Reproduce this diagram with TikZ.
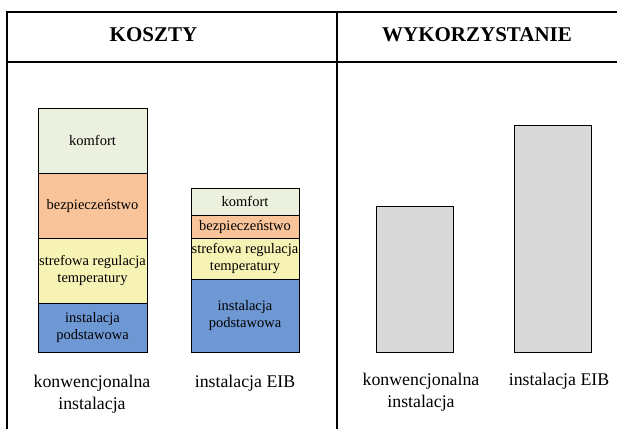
\documentclass[tikz,border=0pt]{standalone}
\usepackage{fontspec}
\setmainfont{Liberation Serif}
\definecolor{comfort}{HTML}{EBF1DE}
\definecolor{safety}{HTML}{F9C49A}
\definecolor{zone}{HTML}{F7F3B5}
\definecolor{base}{HTML}{6D98D4}
\definecolor{usegray}{HTML}{D9D9D9}
\begin{document}
\begin{tikzpicture}[x=1pt,y=-1pt,
  frame/.style={line width=2pt},
  seg/.style={draw=black, line width=0.8pt, inner sep=0pt, align=center,
              font=\fontsize{14.5}{17.5}\selectfont},
  usebar/.style={draw=black, line width=0.8pt, fill=usegray, inner sep=0pt},
  head/.style={font=\fontsize{21}{25}\selectfont\bfseries},
  caption/.style={align=center, inner sep=0pt, font=\fontsize{17.8}{22}\selectfont}]
\useasboundingbox (0,0) rectangle (617,429);

% table frame
\draw[frame] (7,12) -- (617,12);
\draw[frame] (7,61.5) -- (617,61.5);
\draw[frame] (7,11) -- (7,429);
\draw[frame] (337,11) -- (337,429);

% column headings
\node[head, anchor=base] (hcost) at (153.5,41) {KOSZTY};
\node[head, anchor=base] (huse) at (477,41) {WYKORZYSTANIE};

% cost stack: conventional installation
\node[seg, fill=comfort, minimum width=109pt, minimum height=65pt] (c1) at (92.5,140.5) {komfort};
\node[seg, fill=safety,  minimum width=109pt, minimum height=65pt] (c2) at (92.5,205.5) {bezpieczeństwo};
\node[seg, fill=zone,    minimum width=109pt, minimum height=65pt] (c3) at (92.5,270.5) {strefowa regulacja\\temperatury};
\node[seg, fill=base,    minimum width=109pt, minimum height=49pt] (c4) at (92.5,327.5) {instalacja\\podstawowa};

% cost stack: EIB installation
\node[seg, fill=comfort, minimum width=108pt, minimum height=27pt] (e1) at (245,201.5) {komfort};
\node[seg, fill=safety,  minimum width=108pt, minimum height=23pt] (e2) at (245,226.5) {bezpieczeństwo};
\node[seg, fill=zone,    minimum width=108pt, minimum height=41pt] (e3) at (245,258.5) {strefowa regulacja\\temperatury};
\node[seg, fill=base,    minimum width=108pt, minimum height=73pt] (e4) at (245,315.5) {instalacja\\podstawowa};

% usage bars
\node[usebar, minimum width=77pt, minimum height=146pt] (u1) at (414.5,279) {};
\node[usebar, minimum width=77pt, minimum height=227pt] (u2) at (552.5,238.5) {};

% captions
\node[caption] (l1) at (92,394.5) {konwencjonalna\\instalacja};
\node[caption] (l2) at (245,383) {instalacja EIB};
\node[caption] (l3) at (421,392.5) {konwencjonalna\\instalacja};
\node[caption] (l4) at (559,381) {instalacja EIB};
\end{tikzpicture}
\end{document}
